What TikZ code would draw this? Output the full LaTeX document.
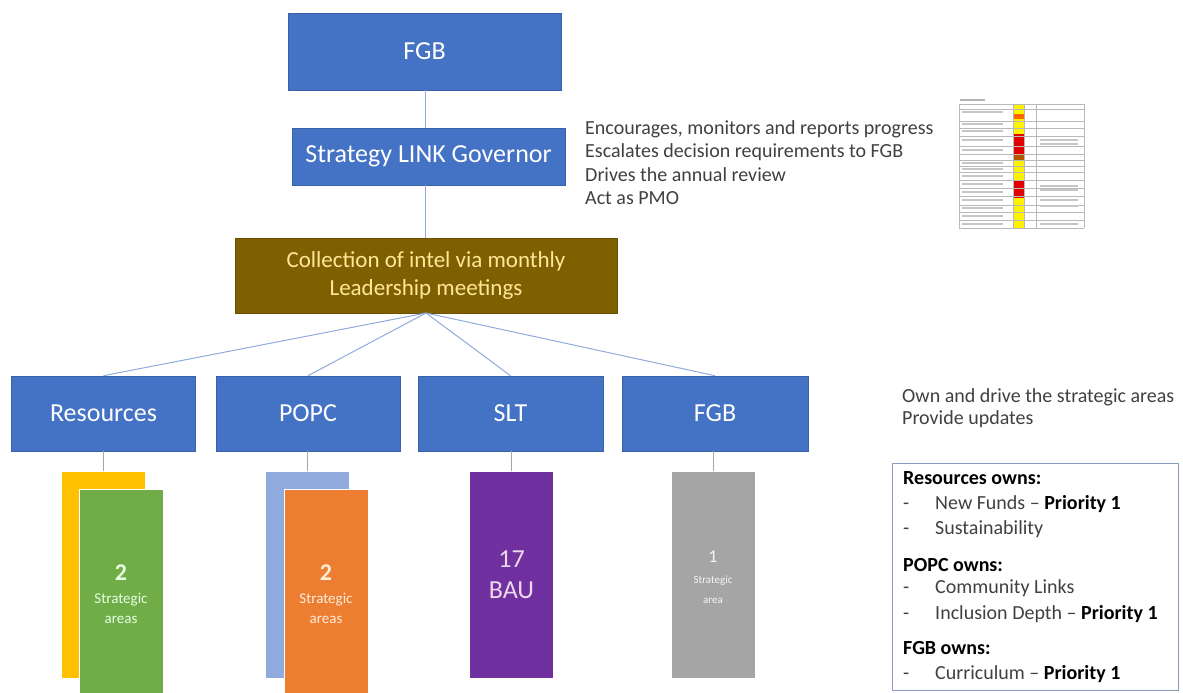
\documentclass[tikz,border=0pt]{standalone}
\usepackage{fontspec}
\setmainfont{Carlito}
\definecolor{boxblue}{HTML}{4472C4}
\definecolor{linkblue}{HTML}{8FAADC}
\definecolor{intelbrown}{HTML}{7F6000}
\definecolor{inteltext}{HTML}{FFE699}
\definecolor{cardyellow}{HTML}{FFC000}
\definecolor{cardgreen}{HTML}{70AD47}
\definecolor{cardlblue}{HTML}{8FAADC}
\definecolor{cardorange}{HTML}{ED7D31}
\definecolor{cardpurple}{HTML}{7030A0}
\definecolor{cardgray}{HTML}{A5A5A5}
\definecolor{bodytext}{HTML}{404040}
\definecolor{sheetred}{HTML}{E00000}
\definecolor{sheetyellow}{HTML}{FFF200}
\begin{document}
\begin{tikzpicture}[x=1pt,y=-1pt,
  orgbox/.style={fill=boxblue,draw=boxblue!85!black,line width=0.6pt,text=white,
    inner sep=0pt,minimum height=75pt,font=\fontsize{26}{30}\selectfont},
  link/.style={draw=linkblue,line width=1pt},
  card/.style={inner sep=0pt,minimum width=84pt,minimum height=207pt,draw=white,line width=0.4pt},
  cardtxt/.style={inner sep=0pt,align=center},
  note/.style={anchor=base west,inner sep=0pt,text=bodytext,font=\fontsize{20}{24}\selectfont},
  listtxt/.style={anchor=base west,inner sep=0pt,text=bodytext,font=\fontsize{20}{24}\selectfont},
  listhead/.style={anchor=base west,inner sep=0pt,text=black,font=\bfseries\fontsize{20}{24}\selectfont}]
\useasboundingbox (0,0) rectangle (1183,693);
\clip (0,0) rectangle (1183,693);

% governance chain
\node[orgbox,minimum width=273pt,minimum height=77pt] (fgbtop) at (424.5,51.5) {FGB};
\node[orgbox,minimum width=273pt,minimum height=57pt] (slg) at (428.5,156.5) {Strategy LINK Governor};
\node[fill=intelbrown,draw=intelbrown!85!black,line width=0.6pt,text=inteltext,inner sep=0pt,
  minimum width=382pt,minimum height=75pt,align=center,
  font=\fontsize{23}{28}\selectfont] (intel) at (426,275.5) {Collection of intel via monthly\\Leadership meetings};

\draw[link] (fgbtop.south -| 425,0) -- (slg.north -| 425,0);
\draw[link] (slg.south -| 425,0) -- (intel.north -| 425,0);

% owners
\node[orgbox,minimum width=184pt] (res) at (103.5,413.5) {Resources};
\node[orgbox,minimum width=184pt] (popc) at (308,413.5) {POPC};
\node[orgbox,minimum width=185pt] (slt) at (510.5,413.5) {SLT};
\node[orgbox,minimum width=186pt] (fgb) at (715,413.5) {FGB};

\coordinate (hub) at (426,313);
\foreach \b in {res,popc,slt,fgb}{\draw[link] (hub) -- (\b.north);}

% area cards
\node[card,fill=cardyellow] (resback) at (103,574.5) {};
\node[card,fill=cardgreen] (resfront) at (121,592.5) {};
\node[card,fill=cardlblue] (popcback) at (307.5,574.5) {};
\node[card,fill=cardorange] (popcfront) at (326,592.5) {};
\node[card,fill=cardpurple] (sltcard) at (511.5,574.5) {};
\node[card,fill=cardgray] (fgbcard) at (713,574.5) {};

\draw[link,draw=gray!70] (res.south -| resback.north) -- (resback.north);
\draw[link,draw=gray!70] (popc.south -| popcback.north) -- (popcback.north);
\draw[link,draw=gray!70] (slt.south -| sltcard.north) -- (sltcard.north);
\draw[link,draw=gray!70] (fgb.south -| fgbcard.north) -- (fgbcard.north);

\node[cardtxt,text=green!10!white,font=\bfseries\fontsize{24}{26}\selectfont] (resnum) at (121,573) {2};
\node[cardtxt,text=green!10!white,font=\fontsize{15}{20}\selectfont] (reslbl) at (121,608) {Strategic\\areas};
\node[cardtxt,text=orange!15!white,font=\bfseries\fontsize{24}{26}\selectfont] (popcnum) at (326,573) {2};
\node[cardtxt,text=orange!15!white,font=\fontsize{15}{20}\selectfont] (popclbl) at (326,608) {Strategic\\areas};
\node[cardtxt,text=violet!15!white,font=\fontsize{26}{31}\selectfont] (sltlbl) at (511.5,574.5) {17\\BAU};
\node[cardtxt,text=white!92!gray,font=\fontsize{18}{20}\selectfont] (fgbnum) at (713,557) {1};
\node[cardtxt,text=white!92!gray,font=\fontsize{11}{20}\selectfont] (fgblbl) at (713,590) {Strategic\\area};

% governor duties
\node[note] (d1) at (585,134.5) {Encourages, monitors and reports progress};
\node[note] (d2) at (585,157.5) {Escalates decision requirements to FGB};
\node[note] (d3) at (585,181) {Drives the annual review};
\node[note] (d4) at (585,204.5) {Act as PMO};

% tracker sheet thumbnail
\begin{scope}
  \fill[white] (959,104) rectangle (1084,228);
  \fill[sheetyellow] (1013,104) rectangle (1024,228);
  \fill[sheetred] (1013,134) rectangle (1024,156);
  \fill[sheetred] (1013,181) rectangle (1024,198);
  \fill[orange!80!red] (1013,114) rectangle (1024,119);
  \fill[orange!70!black] (1013,155) rectangle (1024,160);
  \fill[gray!60] (960,99) rectangle (985,101);
  \foreach \yy in {104,109,121,128,136,146,154,160,166,172,180,188,196,205,212,220,228}
    \draw[gray!55,line width=0.4pt] (959,\yy) -- (1084,\yy);
  \foreach \xx in {959,1013,1024,1036,1084}
    \draw[gray!55,line width=0.4pt] (\xx,104) -- (\xx,228);
  \foreach \yy in {112,124,131,140,150,163,169,176,184,192,200,208,216,224}
    \fill[gray!45] (962,\yy-1) rectangle (1003,\yy+0.6);
  \foreach \yy in {140,144,186,190,200,206,224}
    \fill[gray!45] (1040,\yy-1) rectangle (1078,\yy+0.6);
\end{scope}

% ownership summary
\node[note] (own1) at (902,402.5) {Own and drive the strategic areas};
\node[note] (own2) at (902,424.5) {Provide updates};

\draw[draw=linkblue!70!gray,line width=0.8pt] (892,463) rectangle (1178,690);
\node[listhead] (h1) at (903,484.5) {Resources owns:};
\node[listtxt] (i1d) at (903,509.5) {-};
\node[listtxt] (i1) at (935,509.5) {New Funds – \textbf{\color{black}Priority 1}};
\node[listtxt] (i2d) at (903,534.5) {-};
\node[listtxt] (i2) at (935,534.5) {Sustainability};
\node[listhead] (h2) at (903,571.5) {POPC owns:};
\node[listtxt] (i3d) at (903,593.5) {-};
\node[listtxt] (i3) at (935,593.5) {Community Links};
\node[listtxt] (i4d) at (903,619.5) {-};
\node[listtxt] (i4) at (935,619.5) {Inclusion Depth – \textbf{\color{black}Priority 1}};
\node[listhead] (h3) at (903,654.5) {FGB owns:};
\node[listtxt] (i5d) at (903,679.5) {-};
\node[listtxt] (i5) at (935,679.5) {Curriculum – \textbf{\color{black}Priority 1}};
\end{tikzpicture}
\end{document}
